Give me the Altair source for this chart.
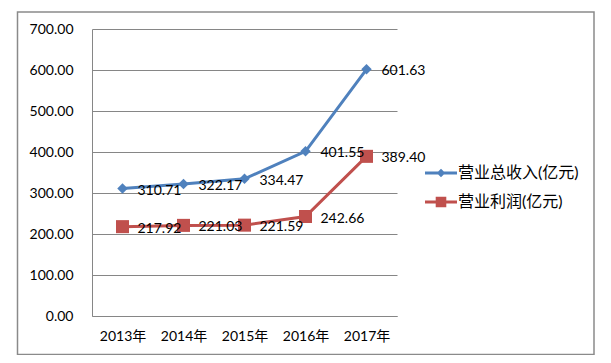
import altair as alt
import pandas as pd

years = ["2013年", "2014年", "2015年", "2016年", "2017年"]
series_names = ["营业总收入(亿元)", "营业利润(亿元)"]
revenue = [310.71, 322.17, 334.47, 401.55, 601.63]
profit = [217.92, 221.03, 221.59, 242.66, 389.40]
y_ticks = [0, 100, 200, 300, 400, 500, 600, 700]

colors = ["#4F81BD", "#C0504D"]
FONT = "Lato, 'Noto Sans CJK SC'"

rows = []
for s, vals in zip(series_names, [revenue, profit]):
    for y, v in zip(years, vals):
        rows.append({"year": y, "series": s, "value": v, "label": f"{v:.2f}"})
df = pd.DataFrame(rows)

x_enc = alt.X("year:O", sort=years,
              scale=alt.Scale(type="point", padding=0.5),
              axis=alt.Axis(title=None, labelAngle=0, ticks=False, grid=False,
                            labelPadding=13, domainColor="#868686",
                            labelFont=FONT, labelFontSize=14, labelColor="#000"))
y_enc = alt.Y("value:Q", scale=alt.Scale(domain=[0, 700], nice=False),
              axis=alt.Axis(title=None, values=y_ticks, format=".2f", ticks=False,
                            grid=True, gridColor="#868686", domainColor="#868686",
                            labelPadding=19, labelFont=FONT, labelFontSize=14,
                            labelColor="#000"))

leg = alt.Legend(title=None, orient="none", legendX=341, legendY=136,
                 labelFont=FONT, labelFontSize=16, labelColor="#000",
                 symbolSize=64, symbolStrokeWidth=3, labelOffset=9,
                 symbolFillColor="transparent",
                 rowPadding=10, padding=0, labelLimit=300)
color_enc = alt.Color("series:N", scale=alt.Scale(domain=series_names, range=colors),
                      legend=leg)

base = alt.Chart(df)

frame = alt.Chart(pd.DataFrame({"a": [0]})).mark_rect(
    fill="transparent", stroke="#8a8a8a", strokeWidth=1.5
).encode(x=alt.value(-74.5), x2=alt.value(502), y=alt.value(-17), y2=alt.value(325.5))

lines = base.mark_line(strokeWidth=3).encode(x=x_enc, y=y_enc, color=color_enc)

pts_rev = base.transform_filter(alt.datum.series == series_names[0]).mark_point(
    filled=True, opacity=1, shape="diamond", size=110).encode(
    x=x_enc, y=y_enc, color=color_enc)
pts_pro = base.transform_filter(alt.datum.series == series_names[1]).mark_point(
    filled=True, opacity=1, shape="square", size=170).encode(
    x=x_enc, y=y_enc, color=color_enc)

labels = base.mark_text(align="left", baseline="middle", dx=15, dy=2,
                        font=FONT, fontSize=14, color="#000").encode(
    x=x_enc, y=y_enc, text="label:N")

# legend symbol paths: a line segment plus a solid marker built of nested outlines
paths = ["M-4,0H4M0,-0.55L0.55,0L0,0.55L-0.55,0ZM-0.1,0H0.1",
         "M-4,0H4M-0.95,-0.95H0.95V0.95H-0.95ZM-0.4,-0.4H0.4V0.4H-0.4ZM-0.1,0H0.1"]
legend_layer = base.mark_point(
    filled=False, opacity=1, strokeWidth=3, clip=True).encode(
    x=alt.value(-200), y=alt.value(-200),
    color=color_enc,
    shape=alt.Shape("series:N", scale=alt.Scale(domain=series_names, range=paths), legend=leg),
)

chart = alt.layer(frame, lines, pts_rev, pts_pro, labels, legend_layer).properties(
    width=305, height=287, autosize="none",
    padding={"left": 84, "top": 21, "right": 200, "bottom": 39},
).configure_view(stroke=None)

chart.save("out.html", embed_options={"renderer": "svg", "actions": False})
